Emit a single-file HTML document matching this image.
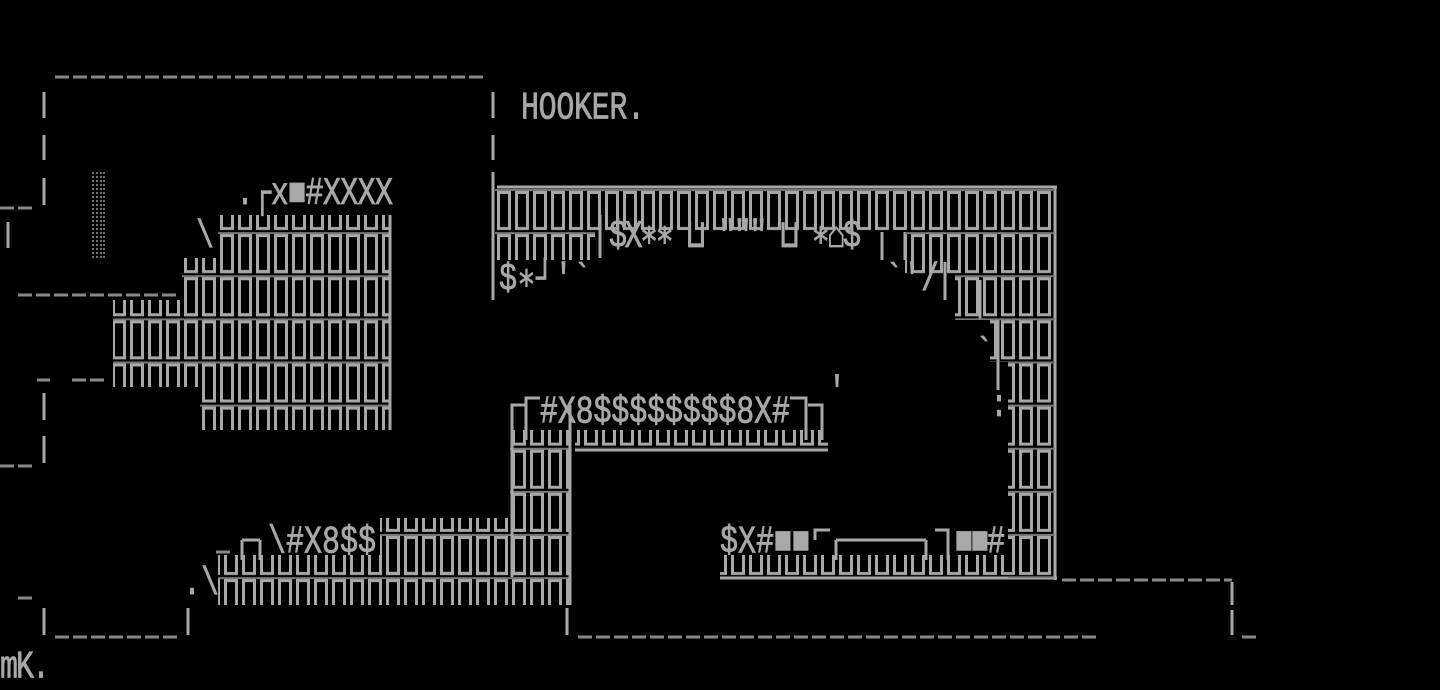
<!DOCTYPE html>
<html><head><meta charset="utf-8"><style>
html,body{margin:0;padding:0;background:#000;width:1440px;height:690px;overflow:hidden}
svg{display:block}
text{font-family:"Liberation Mono","DejaVu Sans Mono",monospace;fill:#a8a8a8;font-size:30px;stroke:#a8a8a8;stroke-width:0.6}
</style></head><body>
<svg width="1440" height="690" viewBox="0 0 1440 690" xmlns="http://www.w3.org/2000/svg">
<defs>
<pattern id="pL" patternUnits="userSpaceOnUse" x="2" y="16.5" width="18" height="43.125">
<rect x="0" y="0" width="18" height="2" fill="#777"/>
<rect x="3.5" y="3.5" width="11" height="36" fill="none" stroke="#a8a8a8" stroke-width="3"/>
</pattern>
<pattern id="pR" patternUnits="userSpaceOnUse" x="9" y="16.5" width="18" height="43.125">
<rect x="0" y="0" width="18" height="2" fill="#777"/>
<rect x="3.5" y="3.5" width="11" height="36" fill="none" stroke="#a8a8a8" stroke-width="3"/>
</pattern>
<pattern id="pM" patternUnits="userSpaceOnUse" x="6" y="16.5" width="18" height="43.125">
<rect x="0" y="0" width="18" height="2" fill="#777"/>
<rect x="3.5" y="3.5" width="11" height="36" fill="none" stroke="#a8a8a8" stroke-width="3"/>
</pattern>
</defs>

<g stroke="#888" stroke-width="3" stroke-dasharray="14 4" fill="none">
<line x1="55" y1="77" x2="485" y2="77"/>
<line x1="18" y1="295" x2="178" y2="295"/>
<line x1="37" y1="380" x2="50" y2="380"/>
<line x1="72" y1="380" x2="108" y2="380"/>
<line x1="0" y1="208" x2="33" y2="208"/>
<line x1="0" y1="466" x2="33" y2="466"/>
<line x1="18" y1="598" x2="33" y2="598"/>
<line x1="55" y1="637" x2="178" y2="637"/>
<line x1="578" y1="637" x2="1097" y2="637"/>
<line x1="1062" y1="580" x2="1232" y2="580"/>
<line x1="1242" y1="637" x2="1257" y2="637"/>
<line x1="216" y1="552" x2="232" y2="552"/>
</g>
<g stroke="#a8a8a8" stroke-width="3" fill="none">
<line x1="44" y1="92" x2="44" y2="118"/>
<line x1="44" y1="135" x2="44" y2="160"/>
<line x1="44" y1="178" x2="44" y2="205"/>
<line x1="8" y1="222" x2="8" y2="248"/>
<line x1="44" y1="393" x2="44" y2="420"/>
<line x1="44" y1="436" x2="44" y2="463"/>
<line x1="44" y1="608" x2="44" y2="635"/>
<line x1="188" y1="608" x2="188" y2="635"/>
<line x1="567" y1="608" x2="567" y2="635"/>
<line x1="1232" y1="582" x2="1232" y2="605"/>
<line x1="1232" y1="610" x2="1232" y2="635"/>
<line x1="493" y1="92" x2="493" y2="118"/>
<line x1="493" y1="135" x2="493" y2="160"/>
<line x1="493" y1="172" x2="493" y2="300"/>
<line x1="497" y1="187" x2="1057" y2="187"/>
<line x1="1055" y1="187" x2="1055" y2="580"/>
<line x1="720" y1="578" x2="1057" y2="578"/>
<line x1="575" y1="450" x2="828" y2="450"/>
<line x1="945" y1="262" x2="945" y2="300"/>
<line x1="998" y1="320" x2="998" y2="390"/>
<line x1="980" y1="280" x2="980" y2="320"/>
<line x1="905" y1="232" x2="905" y2="260"/>
<line x1="882" y1="232" x2="882" y2="260"/>
<line x1="600" y1="215" x2="600" y2="258"/>
<line x1="836" y1="540" x2="926" y2="540"/>
<line x1="836" y1="540" x2="836" y2="560"/>
<line x1="926" y1="540" x2="926" y2="560"/>
<line x1="242" y1="540" x2="260" y2="540"/>
<line x1="242" y1="540" x2="242" y2="560"/>
<line x1="260" y1="540" x2="260" y2="560"/>
<polyline points="512,440 512,405 525,405"/>
<polyline points="526,440 526,398 540,398"/>
<polyline points="790,398 806,398 806,440"/>
<polyline points="808,405 822,405 822,440"/>
<polyline points="815,540 815,530 830,530"/>
<polyline points="935,530 948,530 948,560"/>
</g>
<g stroke="#999" stroke-width="1.5" stroke-dasharray="2 2">
<line x1="93" y1="172" x2="93" y2="258"/>
<line x1="97" y1="172" x2="97" y2="258"/>
<line x1="101" y1="172" x2="101" y2="258"/>
<line x1="104" y1="172" x2="104" y2="258"/>
</g>

<rect x="218" y="215" width="172" height="60" fill="url(#pL)"/>
<rect x="182" y="258" width="208" height="60" fill="url(#pL)"/>
<rect x="113" y="300" width="277" height="87" fill="url(#pL)"/>
<rect x="200" y="362" width="190" height="68" fill="url(#pL)"/>
<line x1="390" y1="215" x2="390" y2="430" stroke="#a8a8a8" stroke-width="3"/>

<rect x="495" y="189" width="560" height="43" fill="url(#pR)"/>
<rect x="495" y="232" width="100" height="28" fill="url(#pR)"/>
<rect x="905" y="232" width="150" height="43" fill="url(#pR)"/>
<rect x="955" y="275" width="100" height="45" fill="url(#pR)"/>
<rect x="990" y="318" width="65" height="44" fill="url(#pR)"/>
<rect x="1008" y="362" width="47" height="216" fill="url(#pR)"/>

<rect x="510" y="430" width="60" height="147" fill="url(#pM)"/>
<rect x="575" y="430" width="253" height="18" fill="url(#pM)"/>
<rect x="380" y="518" width="190" height="59" fill="url(#pM)"/>
<rect x="218" y="555" width="352" height="50" fill="url(#pM)"/>
<line x1="570" y1="405" x2="570" y2="605" stroke="#a8a8a8" stroke-width="3"/>
<line x1="512" y1="405" x2="512" y2="577" stroke="#a8a8a8" stroke-width="3"/>
<rect x="720" y="555" width="288" height="22" fill="url(#pR)"/>

<g transform="scale(1,1.3)">
<text x="521" y="91" textLength="124">HOOKER.</text>
<text x="236" y="157" textLength="157">.┌x■#XXXX</text>
<text x="196" y="190">\</text>
<text x="609" y="190" textLength="252">$X∗∗ ⊔ """ ⊔ ∗⌂$</text>
<text x="499" y="223" textLength="92">$∗┘'`</text>
<text x="885" y="223">`'/</text>
<text x="540" y="325" textLength="250">#X8$$$$$$$$8X#</text>
<text x="828" y="310">'</text>
<text x="268" y="425" textLength="108">\#X8$$</text>
<text x="183" y="457">.\</text>
<text x="720" y="425" textLength="90">$X#■■</text>
<text x="955" y="425" textLength="50">■■#</text>
<text x="975" y="280">`</text>
<text x="990" y="320">:</text>
<text x="0" y="521" textLength="50">mK.</text>
</g>
</svg>
</body></html>
